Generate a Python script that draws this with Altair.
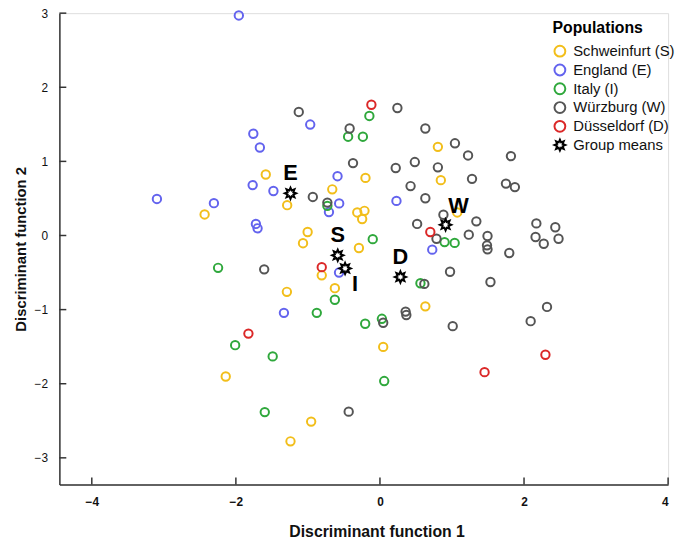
import math
import altair as alt
import pandas as pd

# ---------------- data ----------------
pops = ["Schweinfurt (S)", "England (E)", "Italy (I)", "Würzburg (W)", "Düsseldorf (D)", "Group means"]
colors = ["#F2BE1A", "#6363EE", "#2FA83C", "#555555", "#DB2828", "#000000"]

s_x = [-1.585, -1.288, -2.434, -0.662, -0.201, -0.315, -0.215, -0.247, -1.004, -1.068, -0.292,
       -0.808, -0.626, -1.292, -2.141, -0.955, -1.242, 0.045, 0.630, 0.804, 0.845, 1.073]
s_y = [0.823, 0.409, 0.284, 0.623, 0.777, 0.311, 0.333, 0.223, 0.047, -0.104, -0.169,
       -0.537, -0.711, -0.760, -1.903, -2.511, -2.777, -1.503, -0.956, 1.196, 0.747, 0.311]

e_x = [-1.959, -0.968, -1.758, -1.667, -1.767, -1.479, -3.096, -2.305, -1.722, -1.699, -0.589,
       -0.566, -0.708, 0.229, 0.726, -0.568, -1.333]
e_y = [2.969, 1.497, 1.373, 1.187, 0.680, 0.600, 0.493, 0.436, 0.156, 0.097, 0.800,
       0.433, 0.316, 0.467, -0.191, -0.500, -1.044]

i_x = [-0.147, -0.442, -0.237, -0.730, -0.100, 0.897, 1.037, 0.562, -0.626, -0.877, -2.247,
       -2.010, -1.489, -1.599, -0.205, 0.027, 0.059]
i_y = [1.613, 1.333, 1.333, 0.400, -0.049, -0.089, -0.100, -0.644, -0.867, -1.044, -0.436,
       -1.480, -1.631, -2.383, -1.191, -1.124, -1.964]

w_x = [-1.127, -0.421, 0.242, 0.630, 1.041, 1.223, 1.818, -0.374, 0.219, 0.484, 0.804, 1.278,
       1.749, 1.873, 0.425, 0.630, -0.932, -0.730, 0.881, 0.516, 1.338, 0.785, 1.233, 1.493,
       1.486, 1.493, 1.795, 2.171, 2.434, 2.160, 2.274, 2.479, 0.973, 1.534, 0.616, 0.356,
       0.366, 0.045, 1.010, 2.092, 2.319, -0.434, -1.607]
w_y = [1.667, 1.444, 1.720, 1.444, 1.244, 1.080, 1.071, 0.977, 0.911, 0.991, 0.920, 0.764,
       0.700, 0.653, 0.667, 0.503, 0.520, 0.444, 0.280, 0.156, 0.191, -0.044, 0.011, -0.007,
       -0.133, -0.187, -0.236, 0.163, 0.111, -0.020, -0.111, -0.044, -0.489, -0.627, -0.653,
       -1.027, -1.073, -1.177, -1.223, -1.156, -0.964, -2.377, -0.457]

d_x = [-0.119, 0.699, -0.808, -1.826, 2.297, 1.452]
d_y = [1.764, 0.047, -0.427, -1.324, -1.609, -1.844]

mean_labels = ["E", "S", "I", "D", "W"]
mean_x = [-1.242, -0.586, -0.484, 0.284, 0.911]
mean_y = [0.569, -0.267, -0.444, -0.560, 0.144]

x_ticks = [-4, -2, 0, 2, 4]
y_ticks = [-3, -2, -1, 0, 1, 2, 3]

# ---------------- tables ----------------
rows = []
for name, xs, ys in [(pops[0], s_x, s_y), (pops[1], e_x, e_y), (pops[2], i_x, i_y),
                     (pops[3], w_x, w_y), (pops[4], d_x, d_y)]:
    for a, b in zip(xs, ys):
        rows.append({"x": a, "y": b, "pop": name})
pts = pd.DataFrame(rows)
means = pd.DataFrame({"x": mean_x, "y": mean_y, "lab": mean_labels, "pop": pops[5]})
xt = pd.DataFrame({"v": x_ticks})
yt = pd.DataFrame({"v": y_ticks})

# 8-point star outline symbol
pts_path = []
for k in range(16):
    r = 1.0 if k % 2 == 0 else 0.55
    ang = -math.pi / 2 + k * math.pi / 8
    pts_path.append((r * math.cos(ang), r * math.sin(ang)))
star = "M" + " L".join(f"{a:.3f},{b:.3f}" for a, b in pts_path) + " Z"

W, H = 616, 477
FONT = "Liberation Sans"
xscale = alt.Scale(domain=[-4.45, 4.0], nice=False, zero=False)
yscale = alt.Scale(domain=[-3.36, 3.0], nice=False, zero=False)
cscale = alt.Scale(domain=pops, range=colors)
sscale = alt.Scale(domain=pops, range=["circle"] * 5 + [star])

leg = alt.Legend(title="Populations", orient="none", legendX=499, legendY=7,
                 symbolSize=120, symbolStrokeWidth=2, symbolFillColor="transparent",
                 labelFontSize=15, labelFont=FONT, labelColor="#111",
                 titleFontSize=16, titleFont=FONT, titleFontWeight="bold", titleColor="#000",
                 rowPadding=0, titlePadding=8, labelOffset=6)

xax = alt.Axis(title="Discriminant function 1", values=x_ticks, format="d", tickSize=0, grid=False,
               labelPadding=12, titlePadding=17, labelFontSize=12, labelFont=FONT,
               labelFontWeight="bold", labelColor="#111", titleFontSize=16, titleX=321,
               titleFont="Liberation Sans Narrow, Liberation Sans", titleFontWeight="bold",
               titleColor="#111", domainColor="#333", domainWidth=1.5)
yax = alt.Axis(title="Discriminant function 2", values=y_ticks, format="d", tickSize=0, grid=False,
               labelPadding=12, titlePadding=6, labelFontSize=12, labelFont=FONT,
               labelColor="#111", titleFontSize=15,
               titleFont="Liberation Sans Narrow, Liberation Sans", titleFontWeight="bold",
               titleColor="#111", domainColor="#333", domainWidth=1.5)

base_x = alt.X("x:Q", scale=xscale, axis=xax)
base_y = alt.Y("y:Q", scale=yscale, axis=yax)

points = alt.Chart(pts).mark_point(filled=False, strokeWidth=2, size=72, opacity=1).encode(
    x=base_x, y=base_y,
    color=alt.Color("pop:N", scale=cscale, legend=leg),
    shape=alt.Shape("pop:N", scale=sscale, legend=leg),
)
mpts = alt.Chart(means).mark_point(filled=False, strokeWidth=2, size=130, opacity=1).encode(
    x=base_x, y=base_y,
    color=alt.Color("pop:N", scale=cscale, legend=leg),
    shape=alt.Shape("pop:N", scale=sscale, legend=leg),
)

def lab(names, dx, dy):
    return alt.Chart(means).transform_filter(
        alt.FieldOneOfPredicate(field="lab", oneOf=names)
    ).mark_text(font=FONT, fontSize=22, fontWeight="bold", color="#000", dx=dx, dy=dy).encode(
        x=alt.X("x:Q", scale=xscale), y=alt.Y("y:Q", scale=yscale), text="lab:N")

labels = lab(["E", "S", "D"], 0, -20) + lab(["I"], 10, 16) + lab(["W"], 13, -19)

xticks = alt.Chart(xt).mark_rule(color="#333", strokeWidth=1.5).encode(
    x=alt.X("v:Q", scale=xscale), y=alt.value(H), y2=alt.value(H - 7))
yticks = alt.Chart(yt).mark_rule(color="#333", strokeWidth=1.5).encode(
    y=alt.Y("v:Q", scale=yscale), x=alt.value(0), x2=alt.value(7))

chart = alt.layer(xticks, yticks, points, mpts, labels).properties(
    width=W, height=H,
    autosize=alt.AutoSizeParams(type="none"),
    padding={"left": 52, "top": 2, "right": 9, "bottom": 59},
).configure_view(stroke=None).configure(background="white")

chart.save("out.html", embed_options={"renderer": "svg", "actions": False})
